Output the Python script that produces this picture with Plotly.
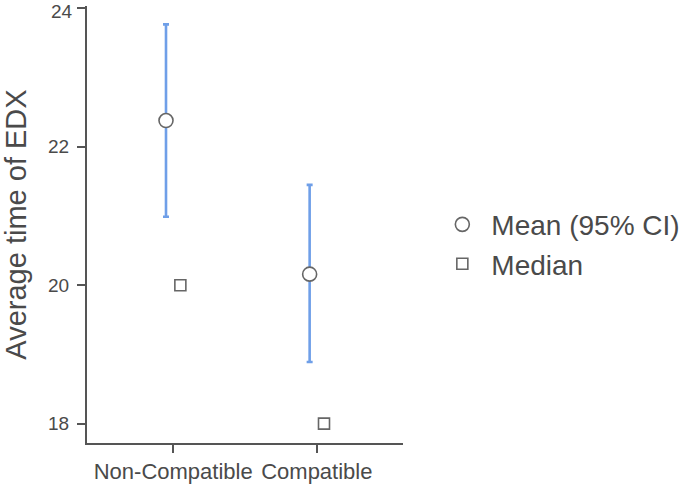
import plotly.graph_objects as go

# données
groupes = ["Non-Compatible", "Compatible"]
positions = [1, 2]
moyennes = [22.38, 20.16]
ic_bas = [20.99, 18.89]
ic_haut = [23.77, 21.45]
medianes = [20.0, 18.0]
y_ticks = [18, 20, 22, 24]

decalage = 0.05
police = "Liberation Sans, Arial, sans-serif"
gris = "#4a4a4a"

err_plus = [h - m for h, m in zip(ic_haut, moyennes)]
err_moins = [m - b for m, b in zip(moyennes, ic_bas)]

# le dernier label (24) est posé à part, un peu plus bas, pour ne pas être coupé en haut
y_labels = [str(v) for v in y_ticks[:-1]] + [""]

fig = go.Figure()

fig.add_trace(go.Scatter(
    x=[p - decalage for p in positions],
    y=moyennes,
    mode="markers",
    name="Mean (95% CI)",
    marker=dict(symbol="circle", size=14, color="white",
                line=dict(color="#666666", width=1.6)),
    error_y=dict(type="data", symmetric=False, array=err_plus, arrayminus=err_moins,
                 color="#6f9fe8", thickness=2.6, width=3),
))

fig.add_trace(go.Scatter(
    x=[p + decalage for p in positions],
    y=medianes,
    mode="markers",
    name="Median",
    marker=dict(symbol="square", size=11, color="white",
                line=dict(color="#666666", width=1.6)),
))

fig.add_annotation(
    x=0, xref="paper", y=y_ticks[-1], yref="y",
    text=str(y_ticks[-1]), showarrow=False,
    xanchor="right", yanchor="middle", xshift=-12, yshift=-3,
    font=dict(size=19, color=gris),
)

fig.update_layout(
    width=685, height=485,
    margin=dict(l=87, r=282, t=6, b=42, autoexpand=False),
    plot_bgcolor="white", paper_bgcolor="white",
    font=dict(family=police, color=gris),
    legend=dict(x=1.096, y=0.455, xanchor="left", yanchor="middle",
                font=dict(size=28, color=gris), itemwidth=48,
                tracegroupgap=0),
)

fig.update_xaxes(
    range=[0.4, 2.6], tickvals=positions, ticktext=groupes,
    showline=True, linecolor="#555555", linewidth=2,
    ticks="outside", ticklen=8, tickwidth=2, tickcolor="#555555",
    showgrid=False, zeroline=False, automargin=False,
    tickfont=dict(size=22, color=gris),
)

fig.update_yaxes(
    range=[17.72, 24.035], tickvals=y_ticks, ticktext=y_labels,
    showline=True, linecolor="#555555", linewidth=2,
    ticks="outside", ticklen=8, tickwidth=2, tickcolor="#555555",
    showgrid=False, zeroline=False, automargin=False,
    tickfont=dict(size=19, color=gris), ticklabelstandoff=4,
    title=dict(text="Average time of EDX", font=dict(size=29, color=gris), standoff=13),
)

# pas de marge autour du graphique dans la page
fig.write_html("out.html", config={"displayModeBar": False},
               post_script="document.body.style.margin = '0';")
